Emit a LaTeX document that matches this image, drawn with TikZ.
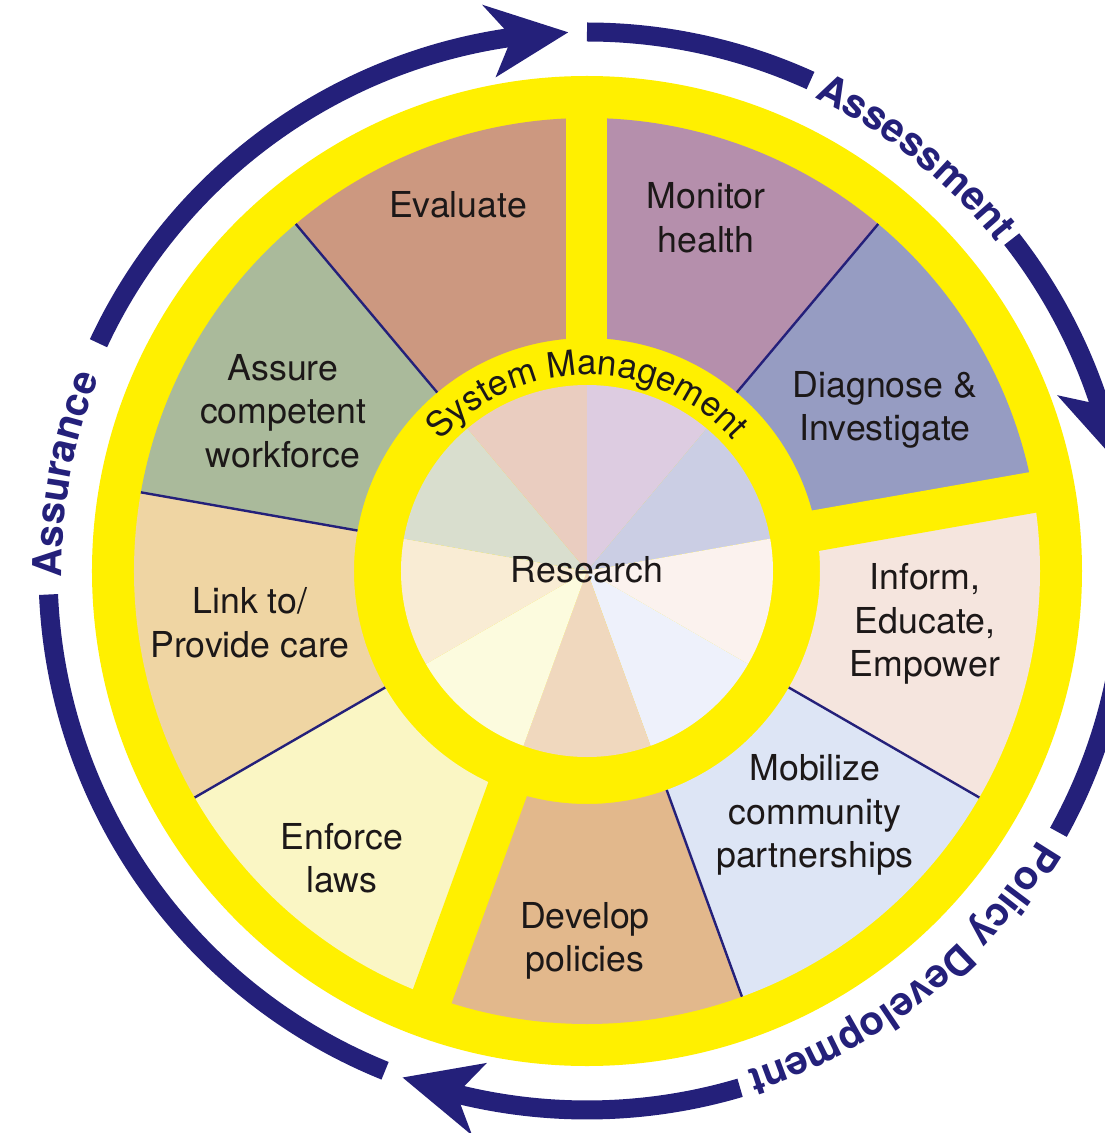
\documentclass[tikz,border=0pt]{standalone}
\usepackage{fontspec}
\setmainfont{TeX Gyre Heros}
\usetikzlibrary{decorations.text}
\definecolor{ylw}{RGB}{255,240,0}
\definecolor{navy}{RGB}{36,32,122}
\definecolor{ink}{RGB}{28,24,24}
\definecolor{cEval}{RGB}{204,152,128}
\definecolor{cMon}{RGB}{181,143,172}
\definecolor{cDiag}{RGB}{150,156,194}
\definecolor{cInf}{RGB}{245,229,222}
\definecolor{cMob}{RGB}{221,229,245}
\definecolor{cDev}{RGB}{226,184,140}
\definecolor{cEnf}{RGB}{250,246,196}
\definecolor{cLink}{RGB}{239,213,163}
\definecolor{cAss}{RGB}{170,186,155}
\definecolor{pEval}{RGB}{234,205,192}
\definecolor{pMon}{RGB}{221,204,225}
\definecolor{pDiag}{RGB}{203,206,228}
\definecolor{pInf}{RGB}{251,242,238}
\definecolor{pMob}{RGB}{238,241,251}
\definecolor{pDev}{RGB}{240,216,190}
\definecolor{pEnf}{RGB}{252,251,222}
\definecolor{pLink}{RGB}{249,236,212}
\definecolor{pAss}{RGB}{217,222,206}
\tikzset{
  lbl/.style={font=\fontsize{35.7pt}{43.5pt}\selectfont, align=center, text=ink, inner sep=0pt},
  band/.style={navy, line width=19pt},
  divider/.style={navy, line width=2.4pt},
  gapband/.style={ylw, line width=41pt},
}
\begin{document}
\begin{tikzpicture}
\useasboundingbox (-587pt,-562pt) rectangle (518pt,571pt);
\fill[white] (-587pt,-562pt) rectangle (518pt,571pt);
\clip (-587pt,-562pt) rectangle (518pt,571pt);
% yellow disc
\fill[ylw] (0,0) circle[radius=495pt];
% outer wedges
\foreach \a/\b/\c in {50/90/cMon, 10/50/cDiag, -30/10/cInf, -70/-30/cMob, -110/-70/cDev, -150/-110/cEnf, 170/210/cLink, 130/170/cAss, 90/130/cEval}{
  \fill[\c] (\a:233pt) -- (\a:453pt) arc[start angle=\a, end angle=\b, radius=453pt] -- (\b:233pt) arc[start angle=\b, end angle=\a, radius=233pt] -- cycle;
}
\foreach \a in {50,-30,-70,210,170,130} \draw[divider] (\a:233pt) -- (\a:453pt);
\foreach \a in {90,10,250} \draw[gapband] (\a:226pt) -- (\a:462pt);
% inner pie
\foreach \a/\b/\c in {50/90/pMon, 10/50/pDiag, -30/10/pInf, -70/-30/pMob, -110/-70/pDev, -150/-110/pEnf, 170/210/pLink, 130/170/pAss, 90/130/pEval}{
  \fill[\c] (0,0) -- (\a:186pt) arc[start angle=\a, end angle=\b, radius=186pt] -- cycle;
}
% outer arrows
\draw[band] (155:539pt) arc[start angle=155, end angle=97.5, radius=539pt];
\fill[navy] (100.5:576pt) -- (92:539pt) -- (100.5:502pt) -- (98:539pt) -- cycle;
\draw[band] (90:539pt) arc[start angle=90, end angle=65.5, radius=539pt];
\draw[band] (38:539pt) arc[start angle=38, end angle=17.5, radius=539pt];
\fill[navy] (20.5:576pt) -- (12:539pt) -- (20.5:502pt) -- (18:539pt) -- cycle;
\draw[band] (10:539pt) arc[start angle=10, end angle=-29, radius=539pt];
\draw[band] (-73.5:539pt) arc[start angle=-73.5, end angle=-104.5, radius=539pt];
\fill[navy] (-101.5:576pt) -- (-110:539pt) -- (-101.5:502pt) -- (-104:539pt) -- cycle;
\draw[band] (248:539pt) arc[start angle=248, end angle=182.5, radius=539pt];
% arc labels
\path[decorate, decoration={text along path, text align=center, text color=navy,
  text={|\fontsize{40pt}{40pt}\selectfont\bfseries|Assessment}}]
  (81.5:525pt) arc[start angle=81.5, end angle=21.5, radius=525pt];
\path[decorate, decoration={text along path, text align=center, text color=navy,
  text={|\fontsize{40pt}{40pt}\selectfont\bfseries|Policy Development}}]
  (-16.5:525pt) arc[start angle=-16.5, end angle=-86.5, radius=525pt];
\path[decorate, decoration={text along path, text align=center, text color=navy,
  text={|\fontsize{40pt}{40pt}\selectfont\bfseries|Assurance}}]
  (199.5:525pt) arc[start angle=199.5, end angle=139.5, radius=525pt];
\path[decorate, decoration={text along path, text align=center, text color=ink,
  text={|\fontsize{35pt}{35pt}\selectfont|System Management}}]
  (150:196pt) arc[start angle=150, end angle=30, radius=196pt];
% wedge labels
\node[lbl] (eval) at (-129pt,366pt) {Evaluate};
\node[lbl] (mon) at (119pt,353pt) {Monitor\\health};
\node[lbl] (diag) at (298pt,161pt) {Diagnose \&\\Investigate};
\node[lbl] (inf) at (338pt,-53pt) {Inform,\\Educate,\\Empower};
\node[lbl] (mob) at (228pt,-244pt) {Mobilize\\community\\partnerships};
\node[lbl] (dev) at (-2pt,-370pt) {Develop\\policies};
\node[lbl] (enf) at (-245pt,-287pt) {Enforce\\laws};
\node[lbl] (link) at (-337pt,-52pt) {Link to/\\Provide care};
\node[lbl] (assure) at (-304pt,160pt) {Assure\\competent\\workforce};
\node[lbl] (res) at (0pt,1pt) {Research};
\end{tikzpicture}
\end{document}
